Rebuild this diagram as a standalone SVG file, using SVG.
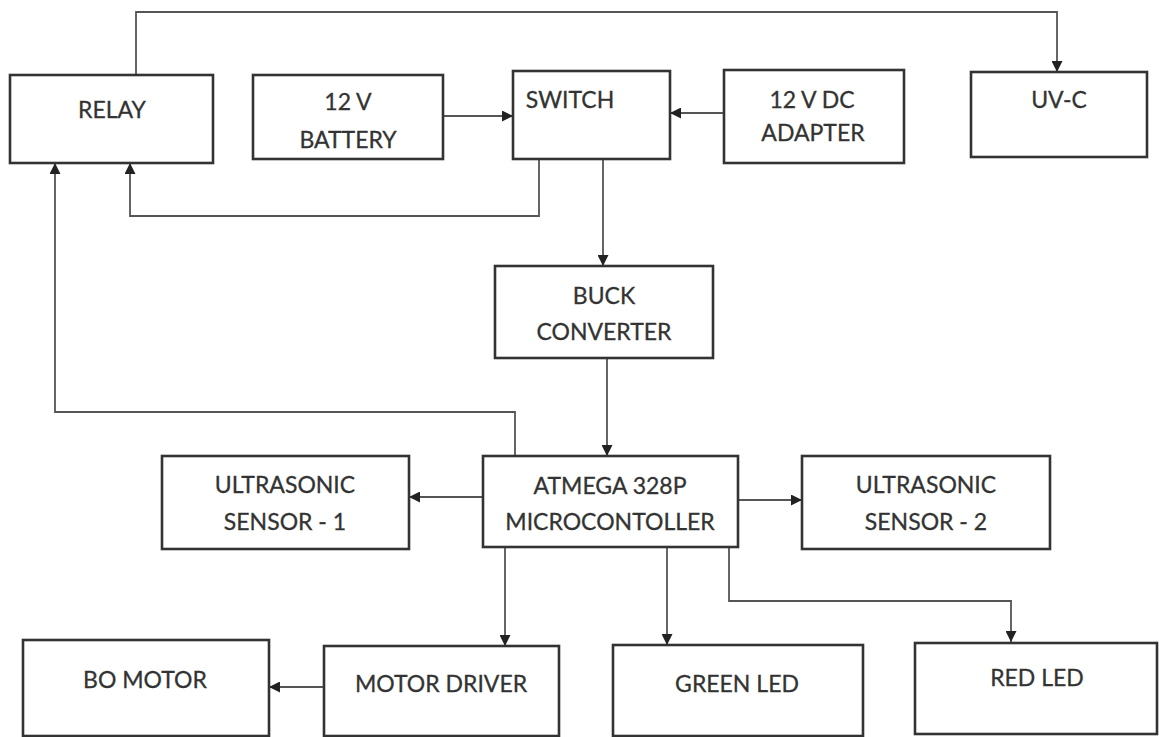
<svg xmlns="http://www.w3.org/2000/svg" width="1159" height="737" viewBox="0 0 1159 737">
<defs>
<marker id="ah" viewBox="0 0 10 10" refX="10" refY="5" markerWidth="11" markerHeight="11" markerUnits="userSpaceOnUse" orient="auto">
<path d="M0,0 L10,5 L0,10 z" fill="#222"/>
</marker>
</defs>
<style>
.box{fill:#fff;stroke:#333;stroke-width:2.6}
.t{font-family:Lato,"Liberation Sans",sans-serif;font-size:23px;fill:#333;text-anchor:middle;stroke:#333;stroke-width:0.3}
.c{fill:none;stroke:#555;stroke-width:1.8;marker-end:url(#ah)}
</style>
<rect width="1159" height="737" fill="#fff"/>
<g id="connectors">
<path class="c" d="M136,75 V12 H1057 V72"/>
<path class="c" d="M443,116 H513"/>
<path class="c" d="M724,113 H670"/>
<path class="c" d="M539,159 V216 H130 V163"/>
<path class="c" d="M515,456 V412 H55 V163"/>
<path class="c" d="M603,159 V266"/>
<path class="c" d="M607,358 V456"/>
<path class="c" d="M483,497 H409"/>
<path class="c" d="M738,500 H802"/>
<path class="c" d="M505,547 V646"/>
<path class="c" d="M324,687 H269"/>
<path class="c" d="M667,547 V645"/>
<path class="c" d="M729,547 V601 H1011 V642"/>
</g>
<g id="relay"><rect class="box" x="10" y="75" width="203" height="88"/><text class="t" x="112" y="118">RELAY</text></g>
<g id="battery"><rect class="box" x="253" y="75" width="190" height="84"/><text class="t" x="348" y="110">12 V</text><text class="t" x="348" y="148">BATTERY</text></g>
<g id="switch"><rect class="box" x="513" y="71" width="157" height="88"/><text class="t" x="570" y="108">SWITCH</text></g>
<g id="adapter"><rect class="box" x="724" y="70" width="180" height="93"/><text class="t" x="812" y="108">12 V DC</text><text class="t" x="813" y="141">ADAPTER</text></g>
<g id="uvc"><rect class="box" x="971" y="72" width="176" height="85"/><text class="t" x="1059" y="108">UV-C</text></g>
<g id="buck"><rect class="box" x="495" y="266" width="218" height="92"/><text class="t" x="604" y="304">BUCK</text><text class="t" x="604" y="340">CONVERTER</text></g>
<g id="mcu"><rect class="box" x="483" y="456" width="255" height="91"/><text class="t" x="610" y="494">ATMEGA 328P</text><text class="t" x="610" y="530">MICROCONTOLLER</text></g>
<g id="us1"><rect class="box" x="162" y="456" width="247" height="93"/><text class="t" x="285" y="493">ULTRASONIC</text><text class="t" x="285" y="530">SENSOR - 1</text></g>
<g id="us2"><rect class="box" x="802" y="456" width="248" height="93"/><text class="t" x="926" y="493">ULTRASONIC</text><text class="t" x="926" y="530">SENSOR - 2</text></g>
<g id="bomotor"><rect class="box" x="23" y="640" width="246" height="96"/><text class="t" x="145" y="688">BO MOTOR</text></g>
<g id="motordriver"><rect class="box" x="324" y="646" width="235" height="90"/><text class="t" x="441" y="692">MOTOR DRIVER</text></g>
<g id="greenled"><rect class="box" x="613" y="645" width="250" height="91"/><text class="t" x="737" y="692">GREEN LED</text></g>
<g id="redled"><rect class="box" x="915" y="643" width="242" height="91"/><text class="t" x="1037" y="686">RED LED</text></g>
</svg>
